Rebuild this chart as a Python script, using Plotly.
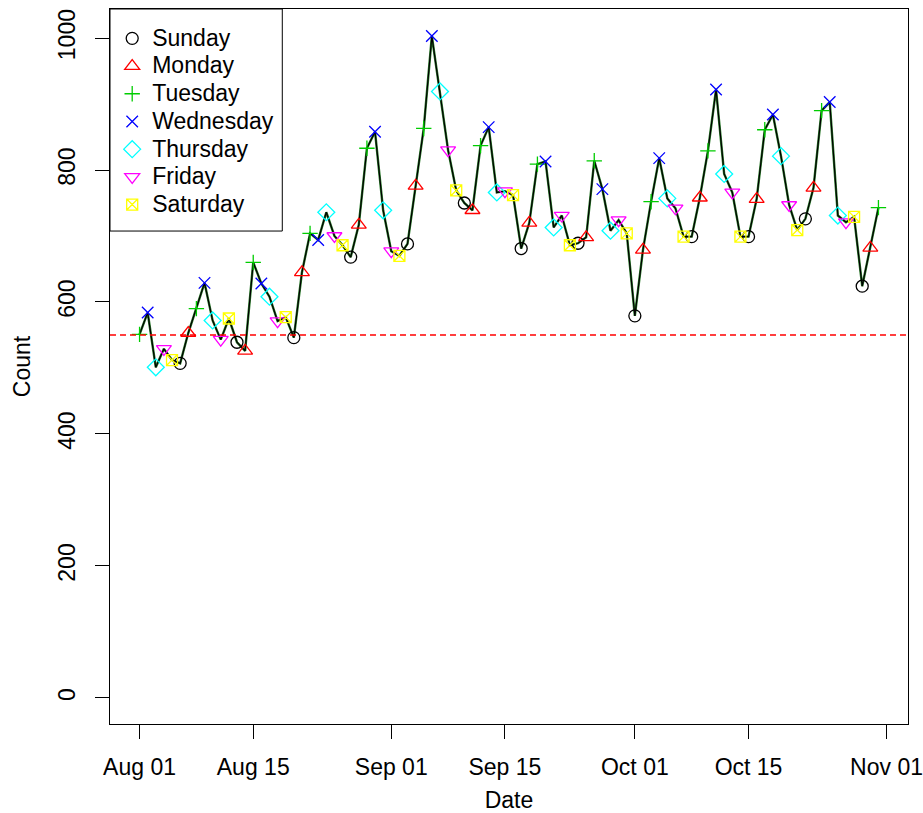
import plotly.graph_objects as go
import pandas as pd

# ---- data ----
start_date = "2017-08-01"
end_date = "2017-10-31"
counts = [
    # August
    551, 584, 501, 529, 512, 507, 553, 590, 629, 572, 543, 575, 539, 526, 660, 628,
    608, 571, 577, 546, 645, 704, 694, 736, 700, 686, 668, 717, 833, 858, 739,
    # September
    677, 670, 688, 776, 863, 1003, 919, 830, 769, 750, 739, 837, 865, 766, 768,
    762, 681, 720, 809, 813, 713, 731, 686, 689, 698, 814, 771, 708, 724, 704,
    # October
    579, 679, 752, 818, 757, 742, 699, 699, 758, 829, 922, 794, 766, 699, 699, 756,
    861, 884, 821, 747, 709, 726, 773, 890, 903, 731, 721, 729, 624, 682, 743,
]
weekday_order = ["Sunday", "Monday", "Tuesday", "Wednesday", "Thursday", "Friday", "Saturday"]
weekday_colors = ["#000000", "#FF0000", "#00CD00", "#0000FF", "#00FFFF", "#FF00FF", "#FFFF00"]
weekday_symbols = ["circle-open", "triangle-up-open", "cross-thin-open", "x-thin-open",
                   "diamond-open", "triangle-down-open", "square-x-open"]
weekday_sizes = [12, 13, 11, 11.5, 13, 13, 11]
reference_level = 550
tick_dates = ["2017-08-01", "2017-08-15", "2017-09-01", "2017-09-15",
              "2017-10-01", "2017-10-15", "2017-11-01"]
tick_labels = ["Aug 01", "Aug 15", "Sep 01", "Sep 15", "Oct 01", "Oct 15", "Nov 01"]
y_ticks = [0, 200, 400, 600, 800, 1000]

dates = pd.date_range(start_date, end_date, freq="D")
df = pd.DataFrame({"date": dates, "count": counts})
df["weekday"] = df["date"].dt.day_name()

FONT = "Liberation Sans, Arial, Helvetica, sans-serif"
FS = 23

fig = go.Figure()

# connecting line (dark line with green fringe)
fig.add_trace(go.Scatter(x=df["date"], y=df["count"], mode="lines",
                         line=dict(color="#2a7a2a", width=2.4),
                         showlegend=False, hoverinfo="skip"))
fig.add_trace(go.Scatter(x=df["date"], y=df["count"], mode="lines",
                         line=dict(color="#000000", width=1.2),
                         showlegend=False, hoverinfo="skip"))

for name, col, sym, sz in zip(weekday_order, weekday_colors, weekday_symbols, weekday_sizes):
    sub = df[df["weekday"] == name]
    fig.add_trace(go.Scatter(
        x=sub["date"], y=sub["count"], mode="markers",
        name="<span style='font-size:%dpx'>%s</span>" % (FS, name),
        marker=dict(symbol=sym, size=sz, color=col, line=dict(color=col, width=1.3)),
    ))

pad = pd.Timedelta(days=(dates[-1] - dates[0]).days * 0.04)

fig.add_shape(type="line", xref="paper", x0=0, x1=1, yref="y",
              y0=reference_level, y1=reference_level,
              line=dict(color="#FF0000", width=1.3, dash="6px,4px"))

# legend frame
fig.add_shape(type="rect", xref="paper", yref="paper",
              x0=0, x1=(282 - 109.5) / 799, y0=1 - (230.7 - 8.5) / 715.5, y1=1,
              line=dict(color="black", width=1), fillcolor="rgba(0,0,0,0)")

fig.update_layout(
    width=923, height=813,
    margin=dict(l=110, r=14.5, t=8.5, b=89, pad=0),
    paper_bgcolor="white", plot_bgcolor="white",
    font=dict(family=FONT, size=FS, color="black"),
    legend=dict(x=2.2 / 799, y=1 - (19 - 8.5) / 715.5, xanchor="left", yanchor="top",
                bgcolor="rgba(0,0,0,0)", borderwidth=0,
                font=dict(family=FONT, size=19, color="black"),
                itemclick=False),
    xaxis=dict(
        range=[dates[0] - pad, dates[-1] + pad],
        tickvals=tick_dates, ticktext=tick_labels,
        showgrid=False, zeroline=False,
        showline=True, linecolor="black", linewidth=1, mirror=True,
        ticks="outside", ticklen=14, tickwidth=1, tickcolor="black",
        ticklabelstandoff=8,
        tickfont=dict(family=FONT, size=FS),
        title=dict(text="Date", font=dict(family=FONT, size=FS), standoff=18),
        automargin=False,
    ),
    yaxis=dict(
        range=[-39.5, 1044],
        tickvals=y_ticks,
        showgrid=False, zeroline=False,
        showline=True, linecolor="black", linewidth=1, mirror=True,
        ticks="outside", ticklen=14, tickwidth=1, tickcolor="black",
        tickangle=-90, ticklabelstandoff=11,
        tickfont=dict(family=FONT, size=FS),
        title=dict(text="Count", font=dict(family=FONT, size=FS), standoff=16),
        automargin=False,
    ),
)

fig.write_html("out.html")
